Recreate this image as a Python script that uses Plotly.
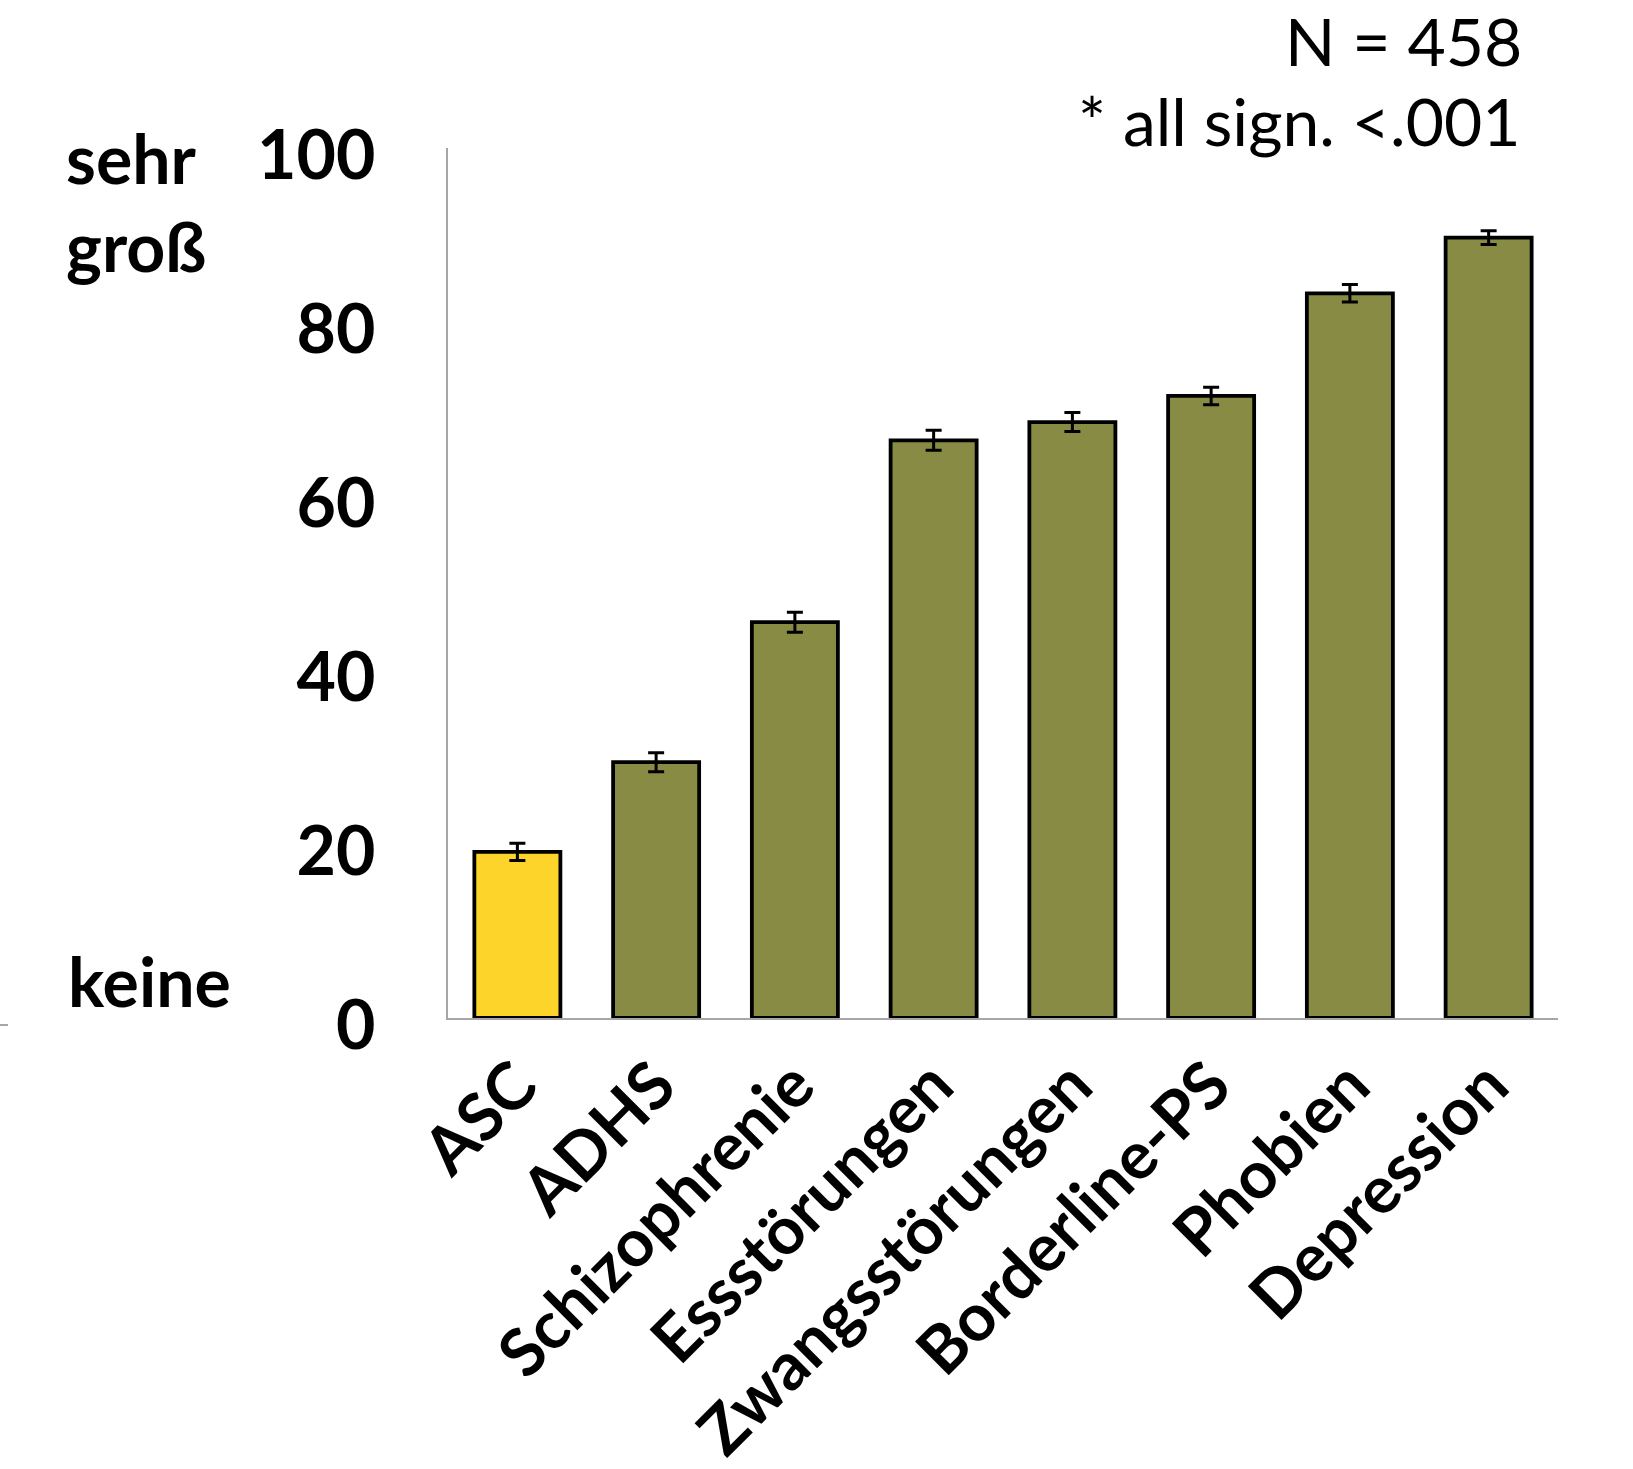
import plotly.graph_objects as go

# Perceived stigma per diagnosis (mean rating 0-100, with standard error)
categories = ["ASC", "ADHS", "Schizophrenie", "Essstörungen",
              "Zwangsstörungen", "Borderline-PS", "Phobien", "Depression"]
means = [19.1, 29.4, 45.5, 66.4, 68.5, 71.5, 83.3, 89.7]
errors = [1.0, 1.1, 1.15, 1.15, 1.1, 1.0, 1.0, 0.8]
y_ticks = [0, 20, 40, 60, 80, 100]

W, H = 1633, 1469
L, R, T, B = 448, 1558, 148, 1018  # plot area in pixels

YELLOW = "#FDD42A"
OLIVE = "#878B43"
bar_colors = [YELLOW] + [OLIVE] * (len(categories) - 1)

FAMILY = "Lato, Open Sans, sans-serif"
FONT_BOLD = dict(family=FAMILY, size=68, color="black", weight="bold")


def px_x(px):
    return (px - L) / (R - L)


def px_y(py):
    return (B - py) / (B - T)


fig = go.Figure(
    go.Bar(
        x=categories,
        y=means,
        width=0.62,
        marker=dict(color=bar_colors, line=dict(color="black", width=3.8)),
        error_y=dict(type="data", array=errors, color="black",
                     thickness=3, width=8),
    )
)

fig.update_layout(
    template="none",
    width=W,
    height=H,
    margin=dict(l=L, r=W - R, t=T, b=H - B, pad=0),
    paper_bgcolor="white",
    plot_bgcolor="white",
    showlegend=False,
    font=FONT_BOLD,
    xaxis=dict(
        range=[-0.5, len(categories) - 0.5],
        showline=True, linecolor="#A6A6A6", linewidth=2,
        showgrid=False, zeroline=False, ticks="",
        tickangle=-45, tickfont=dict(FONT_BOLD, size=66),
        automargin=False,
    ),
    yaxis=dict(
        range=[0, 100],
        tickvals=y_ticks,
        showline=True, linecolor="#A6A6A6", linewidth=2,
        showgrid=False, zeroline=False, ticks="",
        tickfont=FONT_BOLD,
        ticklabelstandoff=57, ticklabelshift=7,
        automargin=False,
    ),
)

# Scale end labels
fig.add_annotation(
    text="sehr<br>groß", xref="paper", yref="paper",
    x=px_x(64), y=px_y(201), xanchor="left", yanchor="middle",
    align="left", showarrow=False, font=FONT_BOLD,
)
fig.add_annotation(
    text="keine", xref="paper", yref="paper",
    x=px_x(66), y=px_y(980), xanchor="left", yanchor="middle",
    showarrow=False, font=FONT_BOLD,
)

# Sample size and significance note
note_font = dict(family=FAMILY, size=66, color="black", weight="normal")
fig.add_annotation(
    text="N = 458", xref="paper", yref="paper",
    x=px_x(1523), y=px_y(0), xanchor="right", yanchor="top",
    showarrow=False, font=note_font, borderpad=0,
)
fig.add_annotation(
    text="* all sign. <.001", xref="paper", yref="paper",
    x=px_x(1523), y=px_y(120), xanchor="right", yanchor="middle",
    showarrow=False, font=note_font,
)

# Short grey stub at the far left edge
fig.add_shape(
    type="line", xref="paper", yref="paper",
    x0=px_x(0), x1=px_x(8), y0=px_y(1025), y1=px_y(1025),
    line=dict(color="#A6A6A6", width=2),
)

fig.write_html("out.html")
